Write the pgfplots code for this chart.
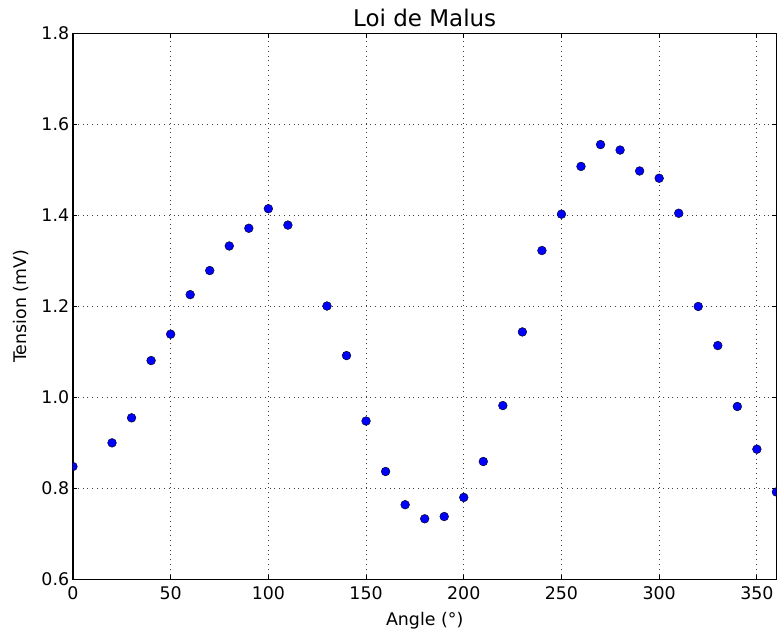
\documentclass[border=0pt]{standalone}
\usepackage{fontspec}
\setmainfont{DejaVu Sans}
\usepackage{pgfplots}
\pgfplotsset{compat=1.18}

\begin{document}
\begin{tikzpicture}
	\begin{axis}[
		width=352pt, height=273pt, scale only axis,
		xmin=0, xmax=360, ymin=0.6, ymax=1.8,
		xtick={0,50,100,150,200,250,300,350},
		ytick={0.6,0.8,1.0,1.2,1.4,1.6,1.8},
		y tick label style={/pgf/number format/fixed, /pgf/number format/fixed zerofill, /pgf/number format/precision=1},
		/pgf/number format/assume math mode=true,
		tick label style={font=\fontsize{8.7}{10}\selectfont, inner sep=0pt},
		xticklabel style={anchor=base, yshift=-10.35pt},
		yticklabel style={anchor=east, xshift=-1.7pt},
		tick align=inside, major tick length=2.2pt,
		tick style={black, line width=0.5pt},
		axis line style={black, line width=0.6pt},
		grid=major,
		grid style={black!75, dotted, line width=0.45pt},
		title={Loi de Malus},
		% the default title style already shifts it up by 6pt
		title style={at={(axis description cs:0.5,1.0128)}, anchor=base, yshift=-6pt, font=\fontsize{11.5}{13}\selectfont, inner sep=0pt},
		xlabel={Angle (°)},
		xlabel style={at={(axis description cs:0.5,-0.0855)}, anchor=base, font=\fontsize{8.7}{10}\selectfont, inner sep=0pt},
		ylabel={Tension (mV)},
		ylabel style={at={(axis description cs:-0.066,0.5)}, anchor=base, font=\fontsize{8.7}{10}\selectfont, inner sep=0pt},
		clip marker paths=true,
	]
	\addplot[only marks, mark=*, mark size=2.2pt,
		mark options={fill=blue, draw=black, line width=0.2pt}] coordinates {
	(0,0.848)(20,0.900)(30,0.955)(40,1.081)(50,1.139)(60,1.226)(70,1.279)
	(80,1.333)(90,1.372)(100,1.415)(110,1.379)(130,1.201)(140,1.092)
	(150,0.948)(160,0.837)(170,0.764)(180,0.733)(190,0.738)(200,0.780)
	(210,0.859)(220,0.982)(230,1.144)(240,1.323)(250,1.403)(260,1.508)
	(270,1.556)(280,1.544)(290,1.498)(300,1.482)(310,1.405)(320,1.200)
	(330,1.114)(340,0.980)(350,0.886)(360,0.792)
	};
	\end{axis}
	\path (current axis.south west) ++(-36.5pt,-27.85pt);
	\path (current axis.north east) ++(0pt,16.85pt);
\end{tikzpicture}
\end{document}
